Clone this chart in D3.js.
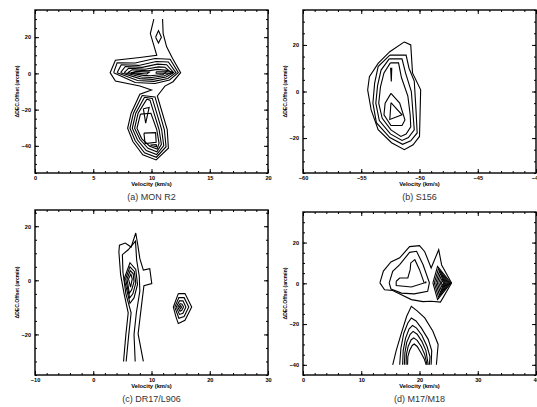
<!DOCTYPE html>
<html>
<head>
<meta charset="utf-8">
<script src="https://cdn.jsdelivr.net/npm/d3@7"></script>
<style>
  body { margin: 0; background: #fff; }
  svg { display: block; }
  .tick text { font-family: "Liberation Sans", Arial, sans-serif; font-weight: bold; font-size: 5.6px; fill: #000; }
</style>
</head>
<body>
<svg id="chart" width="537" height="407"></svg>
<script>
// ---- shared axis titles ----
const velocityTitle = "Velocity (km/s)";
const offsetTitle = "\u0394DEC.Offset (arcmin)";

// ---- (a) MON R2 ----
const monR2Caption = "(a) MON R2";
const monR2VelRange = [0, 20];
const monR2OffRange = [-55, 35];
const monR2VelTicks = [0, 5, 10, 15, 20];
const monR2OffTicks = [-40, -20, 0, 20];
const monR2VelMinor = 1;
const monR2OffMinor = 5;
const monR2Contours = [
  // outermost level: arm to the north, central ridge, southern clump
  [[10.2,30],[9.9,22],[10.2,15.5],[10.45,10],[9.0,8.8],[6.9,7.3],[6.45,0.4],[6.9,-4.2],[9.0,-7],[10.0,-9.2],
   [9.0,-11.5],[8.25,-22],[7.95,-30.3],[8.4,-37.6],[9.25,-45],[10.4,-47.8],[11.45,-41.3],[11.35,-31],
   [10.5,-12.5],[11.15,-7],[11.85,-4.6],[12.5,0.4],[11.8,8.3],[11.3,14.7],[11.0,22],[10.95,30]],
  // northern knot
  [[10.35,20],[10.6,23.6],[10.85,20],[10.6,16.8],[10.35,20]],
  // central ridge levels
  [[6.75,0.4],[7.05,5.9],[8.6,5.7],[10.3,8.2],[11.6,7.8],[12.3,0.4],[11.55,-3.6],[10.3,-5.6],[8.6,-5.0],[6.75,0.4]],
  [[7.05,0.4],[7.4,4.8],[8.9,4.4],[10.4,6.6],[11.45,6.3],[12.1,0.4],[11.4,-2.8],[10.2,-4.4],[8.8,-3.9],[7.05,0.4]],
  [[7.35,0.4],[7.75,3.8],[9.2,3.3],[10.5,5.1],[11.3,4.8],[11.9,0.4],[11.25,-2.0],[10.1,-3.3],[9.0,-2.9],[7.35,0.4]],
  [[7.65,0.4],[8.05,2.9],[9.45,2.3],[10.6,3.6],[11.15,3.4],[11.7,0.4],[11.1,-1.3],[10.0,-2.3],[9.15,-2.0],[7.65,0.4]],
  [[7.95,0.4],[8.35,2.0],[9.7,1.4],[10.5,2.2],[11.4,1.6],[11.0,-0.6],[9.9,-1.3],[9.3,-1.1],[7.95,0.4]],
  [[8.25,0.4],[8.7,1.1],[9.8,0.6],[9.6,-0.3],[8.25,0.4]],
  [[10.4,0.9],[11.8,0.9],[11.8,0.1],[10.4,0.1],[10.4,0.9]],
  // southern clump levels
  [[9.2,-12.2],[8.45,-22],[8.15,-30.3],[8.6,-37.2],[9.4,-43.8],[10.42,-46.3],[11.25,-40.5],[11.1,-31],[10.3,-13],[9.2,-12.2]],
  [[9.4,-13.2],[8.65,-22],[8.35,-30.3],[8.8,-36.8],[9.55,-42.6],[10.44,-44.8],[11.05,-39.8],[10.87,-31],[10.07,-13.8],[9.4,-13.2]],
  [[9.6,-14.2],[8.85,-22],[8.55,-30.3],[9.0,-36.4],[9.7,-41.4],[10.46,-43.3],[10.85,-39.2],[10.65,-31],[9.87,-14.8],[9.6,-14.2]],
  [[9.05,-22.5],[8.75,-30.3],[9.15,-36],[9.85,-40.2],[10.48,-41.8],[10.65,-38.6],[10.45,-31],[9.95,-22],[9.05,-22.5]],
  [[9.3,-19.5],[9.8,-18.8],[9.5,-27.5],[9.3,-19.5]],
  [[9.35,-33],[10.35,-32.7],[10.4,-38],[9.45,-38.8],[9.35,-33]],
  [[9.9,-39.6],[10.4,-39.3],[10.45,-40.5],[9.9,-39.6]]
];

// ---- (b) S156 ----
const s156Caption = "(b) S156";
const s156VelRange = [-60, -40];
const s156OffRange = [-35, 35];
const s156VelTicks = [-60, -55, -50, -45, -40];
const s156OffTicks = [-20, 0, 20];
const s156VelMinor = 1;
const s156OffMinor = 5;
const s156Contours = [
  [[-51.3,21.3],[-50.75,20],[-50.6,8],[-49.9,0.7],[-50.0,-19.3],[-50.55,-22.9],[-51.3,-25],[-52.4,-22],[-53.55,-16.4],
   [-54.15,-7.9],[-54.45,0.7],[-54.3,6.4],[-53.55,12.1],[-52.55,17.1],[-51.3,21.3]],
  [[-52.55,15.6],[-51.15,15.6],[-50.9,10],[-50.45,4.5],[-50.3,-8],[-50.2,-17.8],[-50.75,-21.2],[-51.45,-22.7],[-52.55,-19.8],
   [-53.7,-13.4],[-54.0,-5],[-53.85,3.6],[-53.55,10.7],[-52.55,15.6]],
  [[-52.6,14],[-51.5,14],[-51.2,8],[-50.7,0],[-50.55,-10],[-50.45,-16.5],[-50.95,-19.8],[-51.5,-21],[-52.5,-18.2],
   [-53.45,-12.5],[-53.75,-5],[-53.6,2.5],[-53.3,9.2],[-52.6,14]],
  [[-52.5,12.3],[-51.8,12.3],[-51.55,6],[-51.0,-2],[-50.8,-10],[-50.75,-15.2],[-51.15,-18.3],[-51.6,-19.3],[-52.45,-16.5],
   [-53.2,-11.5],[-53.5,-5],[-53.35,2],[-53.05,8],[-52.5,12.3]],
  [[-52.45,-0.8],[-51.7,-5],[-51.25,-12.2],[-51.5,-14.6],[-52.45,-14.6],[-53.05,-10],[-52.95,-5],[-52.45,-0.8]],
  [[-52.45,-4.8],[-51.5,-10],[-52.55,-12],[-52.45,-4.8]],
  [[-52.48,10.2],[-52.42,4.3],[-52.38,10.2]]
];

// ---- (c) DR17/L906 ----
const dr17Caption = "(c) DR17/L906";
const dr17VelRange = [-10, 30];
const dr17OffRange = [-35, 26];
const dr17VelTicks = [-10, 0, 10, 20, 30];
const dr17OffTicks = [-20, 0, 20];
const dr17VelMinor = 2;
const dr17OffMinor = 5;
const dr17Contours = [
  // main filament
  [[5.2,-30],[5.6,-20],[6.0,-12],[5.3,-5],[4.7,2],[4.4,10.5],[4.5,13],[5.5,13.8],[6.5,12.3],[7.3,17.5],[7.65,13],
   [8.0,8],[8.6,3.8],[9.7,4.3],[10.05,-1.2],[8.7,-2],[8.3,-9],[7.7,-19.8],[8.6,-30]],
  [[5.65,-30],[6.1,-20],[6.5,-12],[5.6,-5],[5.1,3],[5.0,9.5],[6.0,11.3],[7.25,14.5],[7.45,7.5],[7.9,1.5],[8.0,-4],
   [7.4,-12],[7.0,-20],[7.2,-30]],
  [[5.3,0.5],[6.3,6.5],[7.3,4.0],[7.6,-1.5],[7.0,-6.5],[6.3,-8.5],[5.3,0.5]],
  [[5.55,0.5],[6.3,5.0],[7.05,3.3],[7.3,-1.0],[6.8,-5.0],[6.25,-6.5],[5.55,0.5]],
  [[5.8,0.5],[6.35,3.6],[6.85,2.5],[7.0,-0.5],[6.6,-3.5],[6.2,-4.8],[5.8,0.5]],
  [[6.05,0.5],[6.45,2.3],[6.7,0.5],[6.4,-2.5],[6.05,0.5]],
  // eastern clump
  [[14.6,-4.9],[15.75,-4.9],[16.9,-9.9],[15.75,-14.8],[14.6,-16],[14.2,-13.5],[13.75,-9.9],[14.6,-4.9]],
  [[14.0,-9.9],[14.7,-6.4],[15.6,-6.4],[16.4,-9.9],[15.6,-13.4],[14.7,-14.0],[14.0,-9.9]],
  [[14.25,-9.9],[14.8,-7.6],[15.4,-7.6],[15.9,-9.9],[15.4,-12.2],[14.8,-12.6],[14.25,-9.9]],
  [[14.5,-9.9],[14.9,-8.6],[15.25,-8.8],[15.5,-9.9],[15.2,-11.1],[14.9,-11.4],[14.5,-9.9]],
  [[14.75,-9.9],[15.0,-9.3],[15.15,-9.9],[15.0,-10.5],[14.75,-9.9]]
];

// ---- (d) M17/M18 ----
const m17Caption = "(d) M17/M18";
const m17VelRange = [0, 40];
const m17OffRange = [-45, 35];
const m17VelTicks = [0, 10, 20, 30, 40];
const m17OffTicks = [-40, -20, 0, 20];
const m17VelMinor = 2;
const m17OffMinor = 5;
const m17Contours = [
  // northern complex
  [[13.2,0.2],[13.8,6.0],[15.1,10.5],[16.6,12.5],[18.3,18.0],[20.0,18.5],[20.9,15.5],[22.0,7.5],[23.3,16.5],[23.8,9],
   [25.5,0.2],[23.6,-9.2],[22.0,-8.8],[20.6,-9.0],[18.6,-8.0],[16.8,-5.5],[15.4,-3.5],[14.0,-3.2],[13.2,0.2]],
  [[14.8,0.2],[15.4,5.9],[16.6,9.2],[18.3,15.2],[19.5,15.7],[20.6,9.2],[21.7,0.2],[21.4,-3.9],[19.1,-5.2],[16.9,-4.8],[15.1,-2.8],[14.8,0.2]],
  [[16.0,1.0],[16.6,2.6],[18.0,2.6],[18.4,6.7],[18.5,10.0],[19.2,11.6],[20.0,6.7],[20.8,0.2],[18.6,-1.8],[16.0,-1.1],[16.0,1.0]],
  [[20.95,0.6],[21.1,0.6],[21.1,0.3],[20.95,0.3],[20.95,0.6]],
  [[22.3,0.2],[23.1,8.3],[25.4,0.2],[23.1,-8.0],[22.3,0.2]],
  [[22.55,0.2],[23.25,7.1],[25.2,0.2],[23.25,-6.8],[22.55,0.2]],
  [[22.8,0.2],[23.4,5.9],[25.0,0.2],[23.4,-5.6],[22.8,0.2]],
  [[23.05,0.2],[23.55,4.7],[24.8,0.2],[23.55,-4.4],[23.05,0.2]],
  [[23.3,0.2],[23.7,3.5],[24.6,0.2],[23.7,-3.2],[23.3,0.2]],
  [[23.55,0.2],[23.85,2.3],[24.4,0.2],[23.85,-2.0],[23.55,0.2]],
  [[23.75,0.2],[23.95,1.2],[24.2,0.2],[23.95,-0.9],[23.75,0.2]],
  // southern arches
  [[15.4,-40],[16.0,-33],[16.9,-24.3],[17.8,-16.2],[18.6,-11.3],[19.6,-13.5],[20.9,-17.0],[22.3,-23.5],[23.2,-30],[22.9,-40]],
  [[16.6,-40],[16.8,-32],[17.3,-24.5],[18.0,-19.5],[18.6,-17.0],[19.4,-18.5],[20.3,-21.9],[21.5,-27.5],[22.1,-33],[22.0,-40]],
  [[17.1,-40],[17.2,-33],[17.6,-27],[18.2,-22.5],[18.8,-20.7],[19.5,-22],[20.4,-25.5],[21.3,-31],[21.8,-36],[21.7,-40]],
  [[17.4,-40],[17.5,-34],[17.8,-29],[18.4,-25],[18.9,-23.6],[19.6,-25],[20.4,-28.5],[21.1,-33],[21.5,-40]],
  [[17.7,-40],[17.75,-35],[18.05,-31],[18.55,-27.8],[19.0,-26.8],[19.6,-28],[20.3,-31],[20.9,-35],[21.3,-40]],
  [[17.95,-40],[18.0,-36],[18.3,-33],[18.75,-30.5],[19.1,-29.8],[19.6,-31],[20.2,-33.8],[20.8,-37],[21.15,-40]]
];

// ---- panel layout (plot frames in page pixels) ----
const panels = [
  { caption: monR2Caption, vel: monR2VelRange, off: monR2OffRange, vt: monR2VelTicks, ot: monR2OffTicks,
    vm: monR2VelMinor, om: monR2OffMinor, contours: monR2Contours, x0: 35, x1: 268, y0: 10, y1: 173, capY: 200 },
  { caption: s156Caption, vel: s156VelRange, off: s156OffRange, vt: s156VelTicks, ot: s156OffTicks,
    vm: s156VelMinor, om: s156OffMinor, contours: s156Contours, x0: 303, x1: 536, y0: 10, y1: 173, capY: 200 },
  { caption: dr17Caption, vel: dr17VelRange, off: dr17OffRange, vt: dr17VelTicks, ot: dr17OffTicks,
    vm: dr17VelMinor, om: dr17OffMinor, contours: dr17Contours, x0: 35, x1: 268, y0: 210, y1: 375, capY: 402 },
  { caption: m17Caption, vel: m17VelRange, off: m17OffRange, vt: m17VelTicks, ot: m17OffTicks,
    vm: m17VelMinor, om: m17OffMinor, contours: m17Contours, x0: 303, x1: 536, y0: 212, y1: 375, capY: 402 }
];

const svg = d3.select("#chart");
const fontFam = '"Liberation Sans", Arial, Helvetica, sans-serif';

panels.forEach((p, i) => {
  const x = d3.scaleLinear().domain(p.vel).range([p.x0, p.x1]);
  const y = d3.scaleLinear().domain(p.off).range([p.y1, p.y0]);
  const g = svg.append("g");

  const minorV = d3.range(p.vel[0], p.vel[1] + 1e-9, p.vm);
  const minorO = d3.range(Math.ceil(p.off[0] / p.om) * p.om, p.off[1] + 1e-9, p.om);

  const clipId = "clip" + i;
  svg.append("clipPath").attr("id", clipId)
    .append("rect").attr("x", p.x0).attr("y", p.y0).attr("width", p.x1 - p.x0).attr("height", p.y1 - p.y0);

  // contours
  const line = d3.line().x(d => x(d[0])).y(d => y(d[1]));
  g.append("g").attr("clip-path", `url(#${clipId})`)
    .selectAll("path").data(p.contours).join("path")
    .attr("d", line)
    .attr("fill", "none")
    .attr("stroke", "#000")
    .attr("stroke-width", 1.1)
    .attr("stroke-linejoin", "miter");

  // axes with inward ticks on all four sides
  const addAxis = (gen, tx, ty, labels) => {
    const a = g.append("g").attr("transform", `translate(${tx},${ty})`).call(gen);
    a.select(".domain").remove();
    a.selectAll(".tick line").attr("stroke", "#000").attr("stroke-width", 1);
    if (!labels) a.selectAll(".tick text").remove();
    return a;
  };
  addAxis(d3.axisBottom(x).tickValues(minorV).tickSize(-2).tickFormat(""), 0, p.y1, false);
  addAxis(d3.axisTop(x).tickValues(minorV).tickSize(-2).tickFormat(""), 0, p.y0, false);
  addAxis(d3.axisLeft(y).tickValues(minorO).tickSize(-2).tickFormat(""), p.x0, 0, false);
  addAxis(d3.axisRight(y).tickValues(minorO).tickSize(-2).tickFormat(""), p.x1, 0, false);
  addAxis(d3.axisBottom(x).tickValues(p.vt).tickSize(-4).tickPadding(3).tickFormat(d3.format("d")), 0, p.y1, true);
  addAxis(d3.axisTop(x).tickValues(p.vt).tickSize(-4), 0, p.y0, false);
  addAxis(d3.axisLeft(y).tickValues(p.ot).tickSize(-4).tickPadding(4).tickFormat(d3.format("d")), p.x0, 0, true);
  addAxis(d3.axisRight(y).tickValues(p.ot).tickSize(-4), p.x1, 0, false);

  // frame
  g.append("rect")
    .attr("x", p.x0).attr("y", p.y0)
    .attr("width", p.x1 - p.x0).attr("height", p.y1 - p.y0)
    .attr("fill", "none").attr("stroke", "#000").attr("stroke-width", 1.4);

  // axis titles
  g.append("text")
    .attr("x", (p.x0 + p.x1) / 2).attr("y", p.y1 + 12.5)
    .attr("text-anchor", "middle")
    .attr("font-family", fontFam).attr("font-weight", "bold").attr("font-size", 5.8)
    .text(velocityTitle);
  g.append("text")
    .attr("transform", `translate(${p.x0 - 18},${(p.y0 + p.y1) / 2}) rotate(-90)`)
    .attr("dy", "0.35em")
    .attr("text-anchor", "middle")
    .attr("font-family", fontFam).attr("font-weight", "bold").attr("font-size", 5.1)
    .text(offsetTitle);

  // caption
  g.append("text")
    .attr("x", (p.x0 + p.x1) / 2).attr("y", p.capY)
    .attr("text-anchor", "middle")
    .attr("font-family", fontFam).attr("font-size", 9)
    .attr("fill", "#333")
    .text(p.caption);
});
</script>
</body>
</html>
